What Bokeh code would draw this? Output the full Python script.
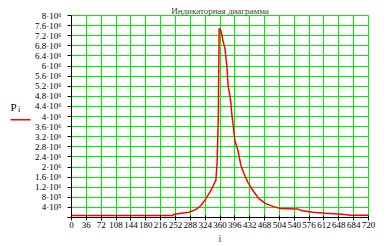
from bokeh.plotting import figure
from bokeh.models import Range1d, FixedTicker, Label, BoxAnnotation
from bokeh.layouts import row
from bokeh.embed import file_html
from bokeh.resources import INLINE

# crank angle, deg
angle_i = [0, 246, 247, 266, 285, 302, 314, 326, 338, 350, 353, 356, 356.5, 358,
           362, 365, 367, 372, 374.5, 377, 379.5, 384, 386.5, 389, 391.5, 396,
           403.5, 410.7, 418, 427.6, 439.7, 454, 471, 488, 507, 548, 556, 585,
           616, 657, 676, 720]
# cylinder pressure, Pa
pressure_P = [0.8e5, 0.8e5, 1.2e5, 1.7e5, 2.1e5, 3.2e5, 4.75e5, 7.5e5, 1.07e6,
              1.47e6, 2.18e6, 4.04e6, 5.15e6, 7.49e6,
              7.4e6, 7.2e6, 7.0e6, 6.69e6, 6.3e6, 5.94e6, 5.23e6, 4.83e6, 4.51e6,
              4.04e6, 3.72e6, 3.05e6, 2.65e6, 2.06e6, 1.74e6, 1.39e6, 1.07e6,
              7.5e5, 5.5e5, 4.4e5, 3.6e5, 3.4e5, 2.8e5, 2.1e5, 1.7e5, 1.3e5,
              0.9e5, 0.9e5]

x_ticks = list(range(0, 721, 36))
y_ticks = [i * 400000 for i in range(21)]
y_tick_labels = ["", "4·10⁵", "8·10⁵", "1.2·10⁶", "1.6·10⁶", "2·10⁶", "2.4·10⁶",
                 "2.8·10⁶", "3.2·10⁶", "3.6·10⁶", "4·10⁶", "4.4·10⁶", "4.8·10⁶",
                 "5.2·10⁶", "5.6·10⁶", "6·10⁶", "6.4·10⁶", "6.8·10⁶", "7.2·10⁶",
                 "7.6·10⁶", "8·10⁶"]
title_text = "Индикаторная диаграмма"
x_label = "i"
series_name = "P"
series_sub = "i"

FONT = "Liberation Serif"
GRID = "#00ee00"

# ---- main chart ----
p = figure(width=357, height=246, output_backend="svg", toolbar_location=None,
           x_range=Range1d(0, 720), y_range=Range1d(0, 8e6),
           min_border_left=38, min_border_right=21, min_border_top=15,
           min_border_bottom=29)
p.title.text = title_text
p.title.align = "center"
p.title.text_font = FONT
p.title.text_font_size = "9px"
p.title.text_font_style = "normal"
p.title.standoff = 0
p.background_fill_color = "white"
p.border_fill_color = "white"
p.outline_line_color = GRID
p.outline_line_width = 1

p.line(angle_i, pressure_P, line_color="red", line_width=1.5)

for ax in (p.xaxis, p.yaxis):
    ax.axis_line_color = "black"
    ax.major_tick_line_color = "black"
    ax.minor_tick_line_color = None
    ax.major_label_text_font = FONT
    ax.major_label_text_color = "black"
    ax.major_label_text_font_size = "9px"

p.xaxis.ticker = FixedTicker(ticks=x_ticks)
p.xaxis.major_tick_out = 3
p.xaxis.major_tick_in = 2
p.xaxis.major_label_standoff = 1
p.xaxis.axis_label = x_label
p.xaxis.axis_label_text_font = FONT
p.xaxis.axis_label_text_font_size = "10px"
p.xaxis.axis_label_text_font_style = "normal"
p.xaxis.axis_label_standoff = 2

p.yaxis.ticker = FixedTicker(ticks=y_ticks)
p.yaxis.major_label_overrides = {t: s for t, s in zip(y_ticks, y_tick_labels)}
p.yaxis.major_tick_out = 4
p.yaxis.major_tick_in = 0
p.yaxis.major_label_standoff = 6

p.xgrid.ticker = FixedTicker(ticks=x_ticks)
p.ygrid.ticker = FixedTicker(ticks=y_ticks)
for g in (p.xgrid, p.ygrid):
    g.grid_line_color = GRID
    g.grid_line_width = 1
    g.grid_line_alpha = 1.0

# ---- Mathcad-style trace key at the left: name above a red sample line ----
k = figure(width=32, height=246, output_backend="svg", toolbar_location=None,
           x_axis_location=None, y_axis_location=None,
           min_border_left=0, min_border_right=0, min_border_top=0,
           min_border_bottom=0)
k.outline_line_color = None
k.grid.visible = False
k.background_fill_color = "white"
k.border_fill_color = "white"
k.add_layout(Label(x=10, y=105, x_units="screen", y_units="screen",
                   text=series_name, text_font=FONT, text_font_size="11px",
                   text_color="black"))
k.add_layout(Label(x=17.5, y=104, x_units="screen", y_units="screen",
                   text=series_sub, text_font=FONT, text_font_size="8px",
                   text_color="black"))
k.add_layout(BoxAnnotation(left=10, right=30, bottom=97, top=98.5,
                           left_units="screen", right_units="screen",
                           bottom_units="screen", top_units="screen",
                           fill_color="red", fill_alpha=1, line_color=None))

layout = row(k, p)
open("out.html", "w").write(file_html(layout, INLINE))
